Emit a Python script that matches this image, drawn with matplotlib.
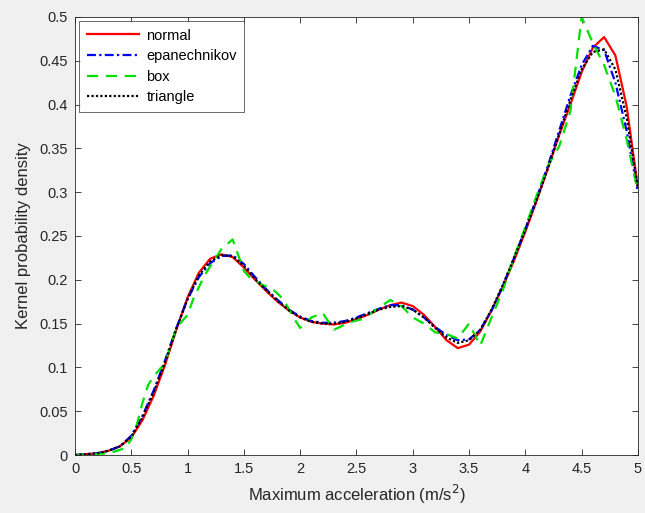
import matplotlib
matplotlib.use('Agg')
import matplotlib.pyplot as plt
import matplotlib.ticker as ticker
import numpy as np

plt.rcParams['font.family'] = ['Liberation Sans', 'DejaVu Sans']

# kernel density estimates
x_grid = np.round(np.arange(0, 5.01, 0.1), 2)
normal = [0.000, 0.001, 0.002, 0.005, 0.010, 0.020, 0.040, 0.068, 0.103, 0.143,
          0.180, 0.208, 0.224, 0.229, 0.226, 0.214, 0.200, 0.187, 0.175, 0.165,
          0.157, 0.152, 0.150, 0.149, 0.151, 0.155, 0.160, 0.166, 0.171, 0.174,
          0.170, 0.160, 0.146, 0.131, 0.122, 0.126, 0.141, 0.165, 0.192, 0.222,
          0.255, 0.290, 0.327, 0.365, 0.400, 0.437, 0.465, 0.477, 0.456, 0.398,
          0.305]
epanechnikov = [0.000, 0.001, 0.002, 0.005, 0.010, 0.022, 0.045, 0.074, 0.108, 0.145,
                0.178, 0.203, 0.219, 0.227, 0.228, 0.218, 0.203, 0.189, 0.177, 0.166,
                0.158, 0.153, 0.151, 0.151, 0.153, 0.157, 0.162, 0.167, 0.171, 0.171,
                0.166, 0.157, 0.146, 0.137, 0.131, 0.132, 0.143, 0.165, 0.193, 0.225,
                0.258, 0.293, 0.330, 0.370, 0.410, 0.445, 0.467, 0.462, 0.425, 0.370,
                0.300]
triangle = [0.000, 0.001, 0.002, 0.005, 0.010, 0.021, 0.043, 0.072, 0.106, 0.144,
            0.178, 0.205, 0.221, 0.228, 0.227, 0.216, 0.201, 0.188, 0.176, 0.165,
            0.157, 0.152, 0.150, 0.150, 0.152, 0.156, 0.161, 0.166, 0.169, 0.170,
            0.166, 0.157, 0.145, 0.134, 0.128, 0.131, 0.143, 0.166, 0.194, 0.225,
            0.257, 0.291, 0.327, 0.366, 0.405, 0.440, 0.460, 0.463, 0.440, 0.385,
            0.305]
box_x = [0.0, 0.3, 0.45, 0.5, 0.55, 0.6, 0.65, 0.7, 0.8, 0.9, 1.0, 1.05, 1.15, 1.3,
         1.4, 1.5, 1.55, 1.65, 1.75, 1.85, 1.95, 2.0, 2.1, 2.2, 2.3, 2.45, 2.55,
         2.7, 2.8, 2.9, 3.0, 3.1, 3.2, 3.3, 3.4, 3.5, 3.6, 3.7, 3.8, 3.9, 4.0,
         4.1, 4.2, 4.3, 4.4, 4.5, 4.6, 4.7, 4.8, 4.9, 5.0]
box = [0.000, 0.002, 0.008, 0.018, 0.035, 0.060, 0.080, 0.090, 0.105, 0.145, 0.160,
       0.178, 0.205, 0.235, 0.246, 0.210, 0.203, 0.195, 0.190, 0.178, 0.155, 0.145,
       0.157, 0.162, 0.143, 0.152, 0.155, 0.168, 0.177, 0.170, 0.157, 0.150, 0.140,
       0.138, 0.133, 0.150, 0.125, 0.157, 0.188, 0.226, 0.260, 0.296, 0.330, 0.352,
       0.392, 0.500, 0.470, 0.445, 0.410, 0.360, 0.300]

x_ticks = np.round(np.arange(0, 5.01, 0.5), 2)
y_ticks = np.round(np.arange(0, 0.501, 0.05), 2)


def make_label(value, pos):
    return f'{value:g}'


fig = plt.figure(figsize=(6.45, 5.13), dpi=100, facecolor='#f0f0f0')
ax = fig.add_axes([0.1163, 0.113, 0.8727, 0.854])

ax.plot(x_grid, normal, color='#ff0000', lw=1.6, label='normal')
ax.plot(x_grid, epanechnikov, color='#0000ff', lw=1.6, dashes=(4, 1.5, 1, 1.5),
        label='epanechnikov')
ax.plot(box_x, box, color='#00e000', lw=1.6, dashes=(5, 3.5), label='box')
ax.plot(x_grid, triangle, color='black', lw=1.6, dashes=(1, 1), label='triangle')

ax.set_xlim(0, 5)
ax.set_ylim(0, 0.5)
ax.set_xticks(x_ticks)
ax.set_yticks(y_ticks)
ax.xaxis.set_major_formatter(ticker.FuncFormatter(make_label))
ax.yaxis.set_major_formatter(ticker.FuncFormatter(make_label))
ax.tick_params(direction='in', top=True, right=True, length=4, width=0.6,
               labelsize=10.5, color='#262626', labelcolor='#262626', pad=5)
for s in ax.spines.values():
    s.set_color('#262626')
    s.set_linewidth(0.6)

ax.set_xlabel('Maximum acceleration (m/s$^2$)', fontsize=12, color='#262626', labelpad=5)
ax.set_ylabel('Kernel probability density', fontsize=12, color='#262626', labelpad=6)

leg = ax.legend(loc='upper left', fontsize=10.5, frameon=True, fancybox=False,
                edgecolor='#262626', borderaxespad=0.3, handlelength=3.6,
                labelspacing=0.45, borderpad=0.5, handletextpad=0.5)
leg.get_frame().set_linewidth(0.6)

fig.savefig('out.png', dpi=100, facecolor=fig.get_facecolor())
